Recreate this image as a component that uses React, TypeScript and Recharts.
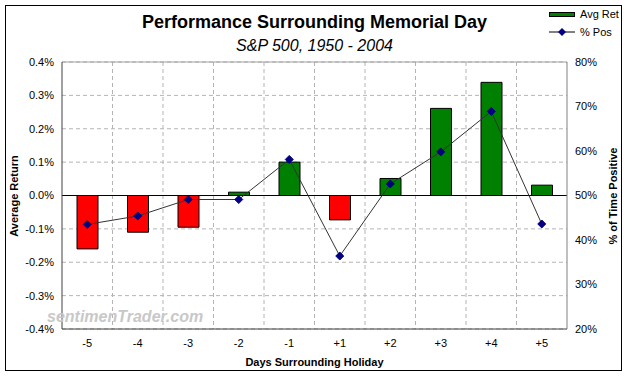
import React from 'react';
import { ComposedChart, Bar, Line, XAxis, YAxis, CartesianGrid, ReferenceLine, Cell } from 'recharts';

// Days around the holiday
const days = ['-5', '-4', '-3', '-2', '-1', '+1', '+2', '+3', '+4', '+5'];
// Average return (%)
const avgRet = [-0.16, -0.11, -0.095, 0.01, 0.1, -0.073, 0.051, 0.261, 0.339, 0.031];
// Percent of time positive (%)
const pctPos = [43.5, 45.4, 49.1, 49.1, 58.1, 36.4, 52.6, 59.8, 68.9, 43.6];

const leftTicks = [-0.4, -0.3, -0.2, -0.1, 0, 0.1, 0.2, 0.3, 0.4];
const rightTicks = [20, 30, 40, 50, 60, 70, 80];

const FONT = '"Liberation Sans", Arial, sans-serif';
const GREEN = '#008000';
const RED = '#FF0000';
const NAVY = '#000080';

const chartData = days.map((d, i) => ({ day: d, ret: avgRet[i], pos: pctPos[i] }));

const Diamond = (props: any) => {
    const { cx, cy } = props;
    if (cx == null || cy == null) return null;
    const r = 4;
    return (
        <polygon
            points={`${cx},${cy - r} ${cx + r},${cy} ${cx},${cy + r} ${cx - r},${cy}`}
            fill={NAVY}
            stroke={NAVY}
        />
    );
};

// legend drawn as html so it doesn't eat plot space
const LegendBox = () => (
    <div style={{ position: 'absolute', left: 549, top: 8, fontFamily: FONT, fontSize: 11, color: '#000', lineHeight: '12px' }}>
        <div style={{ display: 'flex', alignItems: 'center', height: 12 }}>
            <div style={{ width: 26, height: 5, background: GREEN, border: '1px solid #000', boxSizing: 'border-box' }} />
            <span style={{ marginLeft: 5 }}>Avg Ret</span>
        </div>
        <div style={{ display: 'flex', alignItems: 'center', height: 12, marginTop: 6 }}>
            <svg width={26} height={10}>
                <line x1={0} y1={5} x2={26} y2={5} stroke="#000" />
                <polygon points="13,1 17,5 13,9 9,5" fill={NAVY} />
            </svg>
            <span style={{ marginLeft: 5 }}>% Pos</span>
        </div>
    </div>
);

const textBase: React.CSSProperties = {
    position: 'absolute',
    fontFamily: FONT,
    color: '#000',
    whiteSpace: 'nowrap',
    lineHeight: 1,
};

export default function App() {
    return (
        <div style={{ position: 'absolute', left: 0, top: 0, width: 629, height: 377, background: '#fff' }}>
            <div style={{ position: 'absolute', left: 5, top: 5, width: 617, height: 366, border: '1px solid #000', boxSizing: 'border-box' }} />
            <ComposedChart
                width={629}
                height={377}
                data={chartData}
                margin={{ top: 62, right: 0, bottom: 0, left: 0 }}
                barCategoryGap={0}
            >
                <CartesianGrid
                    yAxisId="left"
                    stroke="#b4b4b4"
                    strokeDasharray="4 3"
                    verticalCoordinatesGenerator={({ offset }: any) =>
                        days.slice(1).map((_, i) => offset.left + (offset.width * (i + 1)) / days.length)
                    }
                />
                <XAxis
                    dataKey="day"
                    height={48}
                    tickLine={false}
                    axisLine={{ stroke: '#404040' }}
                    tick={{ fill: '#000', fontSize: 11, fontFamily: FONT }}
                    tickMargin={4}
                    interval={0}
                />
                <YAxis
                    yAxisId="left"
                    width={62}
                    domain={[-0.4, 0.4]}
                    ticks={leftTicks}
                    tickFormatter={(v: number) => `${v.toFixed(1)}%`}
                    tickLine={false}
                    axisLine={{ stroke: '#404040' }}
                    tick={{ fill: '#000', fontSize: 11, fontFamily: FONT }}
                />
                <YAxis
                    yAxisId="right"
                    orientation="right"
                    width={62}
                    domain={[20, 80]}
                    ticks={rightTicks}
                    tickFormatter={(v: number) => `${v}%`}
                    tickLine={false}
                    axisLine={{ stroke: '#808080' }}
                    tick={{ fill: '#000', fontSize: 11, fontFamily: FONT }}
                />
                <ReferenceLine yAxisId="left" y={0.4} stroke="#a0a0a0" />
                <Bar yAxisId="left" dataKey="ret" barSize={21} stroke="#000" strokeWidth={1} isAnimationActive={false}>
                    {chartData.map((d, i) => (
                        <Cell key={i} fill={d.ret < 0 ? RED : GREEN} />
                    ))}
                </Bar>
                <ReferenceLine yAxisId="left" y={0} stroke="#000" />
                <Line
                    yAxisId="right"
                    dataKey="pos"
                    type="linear"
                    stroke="#333"
                    strokeWidth={1}
                    dot={<Diamond />}
                    activeDot={false}
                    isAnimationActive={false}
                />
            </ComposedChart>

            <LegendBox />
            <div style={{ ...textBase, left: 0, width: 629, top: 13, textAlign: 'center', fontSize: 18, fontWeight: 'bold' }}>
                Performance Surrounding Memorial Day
            </div>
            <div style={{ ...textBase, left: 0, width: 629, top: 38, textAlign: 'center', fontSize: 16, fontStyle: 'italic' }}>
                S&amp;P 500, 1950 - 2004
            </div>
            <div style={{ ...textBase, left: 47, top: 309, fontSize: 16, fontWeight: 'bold', fontStyle: 'italic', color: '#c8c8c8' }}>
                sentimenTrader.com
            </div>
            <div style={{ ...textBase, left: 0, width: 629, top: 357, textAlign: 'center', fontSize: 11, fontWeight: 'bold' }}>
                Days Surrounding Holiday
            </div>
            <div style={{ ...textBase, left: 14, top: 196, fontSize: 11, fontWeight: 'bold', transform: 'translate(-50%, -50%) rotate(-90deg)' }}>
                Average Return
            </div>
            <div style={{ ...textBase, left: 613, top: 196, fontSize: 11, fontWeight: 'bold', transform: 'translate(-50%, -50%) rotate(-90deg)' }}>
                % of Time Positive
            </div>
        </div>
    );
}
